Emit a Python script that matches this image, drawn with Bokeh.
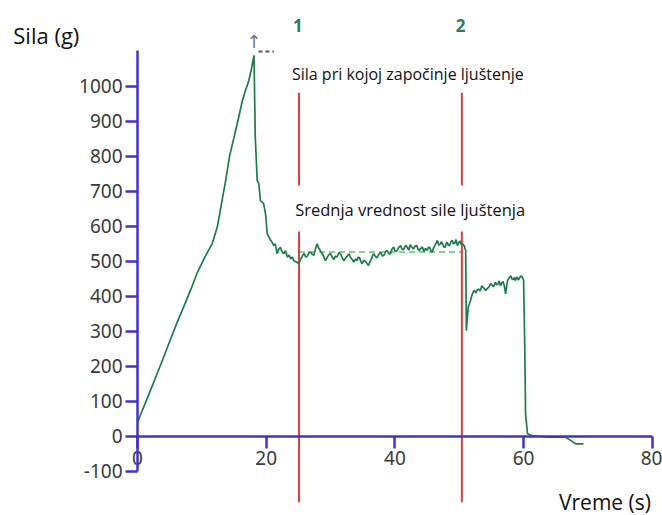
import numpy as np
from bokeh.plotting import figure
from bokeh.models import Range1d, LinearAxis, FixedTicker, Label
from bokeh.embed import file_html
from bokeh.resources import INLINE

# ---- data ----
time_s = [0, 1.4, 2.8, 4.1, 5.4, 6.4, 7.5, 8.4, 9.3, 10.4, 11.6, 12.4, 13.0, 13.7, 14.3,
          15.0, 15.7, 16.3, 16.8, 17.3, 17.7, 18.1,
          18.3, 18.6, 18.85, 19.1, 19.6, 19.9, 20.15, 20.7, 20.9, 21.2, 21.4, 21.7, 21.95,
          22.2, 22.45, 22.7, 23.0, 23.3, 23.55, 23.8, 24.05, 24.3, 24.7,
          25.1, 25.3, 25.5, 25.7, 25.9, 26.15, 26.4, 26.65, 26.9, 27.15, 27.4, 27.65,
          27.9, 28.15, 28.4, 28.6, 28.8, 29.0, 29.2, 29.4, 29.6, 29.8, 30.0, 30.25,
          30.5, 30.75, 31.0, 31.3, 31.6, 31.85, 32.1, 32.35, 32.6, 32.85, 33.1, 33.35,
          33.6, 33.85, 34.1, 34.3, 34.5, 34.7, 34.9, 35.15, 35.4, 35.65, 35.9, 36.1,
          36.3, 36.5, 36.7, 36.95, 37.2, 37.5, 37.8, 38.05, 38.3, 38.55, 38.8, 39.05,
          39.3, 39.55, 39.8, 40.05, 40.3, 40.6, 40.9, 41.15, 41.4, 41.65, 41.9, 42.15,
          42.4, 42.65, 42.9, 43.15, 43.4, 43.7, 44.0, 44.25, 44.5, 44.75, 45.0, 45.2,
          45.4, 45.6, 45.8, 46.0, 46.2, 46.4, 46.6, 46.8, 47.0, 47.2, 47.4, 47.6, 47.8,
          47.95, 48.1, 48.3, 48.5, 48.7, 48.9, 49.1, 49.3, 49.5, 49.7, 49.9, 50.1,
          50.3, 50.5, 50.75, 51.0,
          51.1, 51.25, 51.4, 51.75, 52.0, 52.3, 52.6, 52.8, 53.0, 53.25, 53.5, 53.8,
          54.1, 54.35, 54.6, 54.85, 55.1, 55.35, 55.6, 55.8, 56.0, 56.2, 56.4, 56.6,
          56.8, 57.0, 57.2, 57.35, 57.5, 57.75, 58.0, 58.2, 58.4, 58.55, 58.7, 58.85,
          59.0, 59.15, 59.3, 59.55, 59.8, 60.0,
          60.2, 60.3, 60.6, 61.3, 63.9, 66.5, 67.3, 68.1, 69.3]
force_g = [40, 103, 167, 228, 290, 336, 384, 425, 468, 510, 550, 598, 660, 731, 800,
           855, 910, 960, 990, 1017, 1050, 1089,
           855, 731, 722, 674, 665, 636, 579, 560, 555, 545, 550, 522, 535,
           540, 528, 522, 530, 512, 518, 507, 512, 502, 498,
           493, 505, 510, 518, 522, 512, 515, 525, 526, 520, 517, 535,
           550, 538, 531, 524, 520, 510, 502, 509, 515, 520, 522, 512,
           505, 515, 512, 525, 520, 508, 502, 510, 515, 521, 512, 505,
           498, 506, 502, 512, 510, 500, 493, 503, 500, 494, 488, 498,
           505, 515, 522, 514, 510, 520, 526, 515, 518, 528, 531, 521,
           522, 535, 541, 529, 530, 540, 545, 533, 535, 546, 541, 532,
           548, 540, 536, 544, 545, 531, 536, 542, 528, 537, 531, 540,
           540, 530, 526, 538, 545, 552, 560, 547, 548, 556, 550, 541, 540,
           550, 555, 546, 545, 556, 560, 550, 552, 562, 545, 553, 558,
           549, 550, 545, 531,
           302, 340, 369, 388, 405, 417, 410, 418, 421, 415, 430, 424,
           417, 422, 426, 436, 432, 428, 440, 433, 435, 444, 430, 438,
           442, 430, 407, 428, 445, 452, 459, 449, 448, 454, 445, 452,
           455, 447, 450, 458, 455, 445,
           226, 64, 7, 2, -3, -3, -12, -22, -22]
markers_s = [25.1, 50.4]
marker_labels = ["1", "2"]
x_ticks = [0, 20, 40, 60, 80]
y_ticks = [-100, 0, 100, 200, 300, 400, 500, 600, 700, 800, 900, 1000]

BLUE = "#3f33cc"
GREEN = "#1e7b4c"
RED = "#d6403a"
TICK_TXT = "#3a3a3a"

p = figure(width=662, height=515, output_backend="svg", toolbar_location=None,
           x_axis_type=None, y_axis_type=None, min_border=0,
           x_range=Range1d(-21.29, 81.58), y_range=Range1d(-226.8, 1245.9))
p.outline_line_color = None
p.background_fill_color = "white"
p.border_fill_color = "white"

def style_axis(ax):
    ax.axis_line_color = BLUE
    ax.axis_line_width = 2.5
    ax.major_tick_line_color = BLUE
    ax.major_tick_line_width = 2.5
    ax.major_tick_out = 12
    ax.major_tick_in = 0
    ax.minor_tick_out = 0
    ax.minor_tick_in = 0
    ax.minor_tick_line_color = None
    ax.major_label_text_font = "Noto Sans"
    ax.major_label_text_font_size = "19px"
    ax.major_label_text_color = TICK_TXT
    ax.major_label_standoff = 3

xaxis = LinearAxis(fixed_location=0, bounds=(0, 80), ticker=FixedTicker(ticks=x_ticks))
style_axis(xaxis)
p.add_layout(xaxis, "below")

yaxis = LinearAxis(fixed_location=0, bounds=(-100, 1103), ticker=FixedTicker(ticks=y_ticks),
                   major_label_overrides={v: str(v) for v in y_ticks})
style_axis(yaxis)
p.add_layout(yaxis, "left")

t = np.array(time_s)
f = np.array(force_g)

# mean shear force between markers (light dashed line)
sel = (t >= markers_s[0]) & (t <= markers_s[1])
mean_f = float(f[sel].mean())
p.line([markers_s[0], markers_s[1]], [mean_f, mean_f], line_color="#86d686",
       line_width=2, line_dash="6 4")

# red marker lines (with a gap for the annotation text)
p.segment(x0=markers_s, y0=[717] * 2, x1=markers_s, y1=[982] * 2,
          line_color=RED, line_width=2)
p.segment(x0=markers_s, y0=[-189] * 2, x1=markers_s, y1=[585] * 2,
          line_color=RED, line_width=2)

# force curve
p.line(time_s, force_g, line_color=GREEN, line_width=1.7)

# peak indicator
ipk = int(np.argmax(f))
tp, fp = float(t[ipk]), float(f[ipk])
p.segment(x0=[tp + 0.7], y0=[fp + 11], x1=[tp + 3.1], y1=[fp + 11],
          line_color="#555555", line_width=2, line_dash="4 3")
p.add_layout(Label(x=tp, y=fp + 40, text="↑", text_font="DejaVu Sans",
                   text_font_size="18px", text_color="#777777",
                   text_align="center", text_baseline="middle"))

# marker numbers
for xm, lab in zip(markers_s, marker_labels):
    p.add_layout(Label(x=xm - 0.2, y=1174, text=lab, text_font="Open Sans",
                       text_font_style="bold", text_font_size="17px",
                       text_color="#2e7d5a", text_align="center",
                       text_baseline="middle"))

# annotations
p.add_layout(Label(x=24.0, y=1036, text="Sila pri kojoj započinje ljuštenje",
                   text_font="Open Sans", text_font_size="16px", text_color="#111111",
                   text_align="left", text_baseline="middle"))
p.add_layout(Label(x=24.5, y=647, text="Srednja vrednost sile ljuštenja",
                   text_font="Open Sans", text_font_size="16.5px", text_color="#111111",
                   text_align="left", text_baseline="middle"))

# axis titles
p.add_layout(Label(x=-19.3, y=1146, text="Sila (g)", text_font="Open Sans",
                   text_font_size="22px", text_color="#111111",
                   text_align="left", text_baseline="middle"))
p.add_layout(Label(x=65.5, y=-189, text="Vreme (s)", text_font="Open Sans",
                   text_font_size="21px", text_color="#111111",
                   text_align="left", text_baseline="middle"))

open("out.html", "w").write(file_html(p, INLINE))
